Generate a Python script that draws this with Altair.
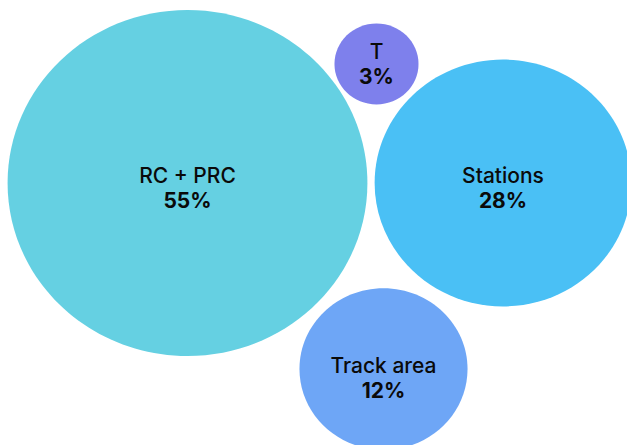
import altair as alt
import pandas as pd

# Data
categories = ["RC + PRC", "T", "Stations", "Track area"]
values = [55, 3, 28, 12]
pct_labels = ["55%", "3%", "28%", "12%"]
colors = ["#65D0E2", "#7E80EC", "#4AC0F5", "#6EA6F6"]

# Bubble layout (centre of each bubble, in chart units)
cx = [187.5, 376.5, 503, 383.5]
cy = [183, 64, 183, 369]
# label line positions
name_y = [176.5, 53, 176.5, 366.5]
pct_y = [201.5, 78, 201.5, 391.5]

df = pd.DataFrame({
    "category": categories,
    "value": values,
    "pct": pct_labels,
    "cx": cx,
    "cy": cy,
    "ny": name_y,
    "py": pct_y,
})

W, H = 627, 445
xs = alt.Scale(domain=[0, W])
ys = alt.Scale(domain=[0, H], reverse=True)

a = 1.04
k = 0.5523
ak = a * k
ellipse = (
    f"M{-a},0C{-a},{-k},{-ak},-1,0,-1C{ak},-1,{a},{-k},{a},0"
    f"C{a},{k},{ak},1,0,1C{-ak},1,{-a},{k},{-a},0Z"
)

base = alt.Chart(df)

bubbles = base.mark_point(shape=ellipse, filled=True, opacity=1, strokeWidth=0).encode(
    x=alt.X("cx:Q", scale=xs, axis=None),
    y=alt.Y("cy:Q", scale=ys, axis=None),
    size=alt.Size("value:Q", scale=alt.Scale(type="linear", domain=[0, 55], range=[0, 119716]), legend=None),
    color=alt.Color("category:N", scale=alt.Scale(domain=categories, range=colors), legend=None),
)

names = base.mark_text(font="Inter", fontSize=21, fontWeight=500, color="#0a0a0a", align="center", baseline="middle").encode(
    x=alt.X("cx:Q", scale=xs, axis=None),
    y=alt.Y("ny:Q", scale=ys, axis=None),
    text="category:N",
)

pcts = base.mark_text(font="Inter", fontSize=21, fontWeight=700, color="#0a0a0a", align="center", baseline="middle").encode(
    x=alt.X("cx:Q", scale=xs, axis=None),
    y=alt.Y("py:Q", scale=ys, axis=None),
    text="pct:N",
)

chart = alt.layer(bubbles, names, pcts).properties(
    width=W, height=H, padding=0, autosize=alt.AutoSizeParams(type="none"), background="white"
).configure_view(strokeWidth=0)

chart.save("out.html", embed_options={"renderer": "svg", "actions": False})
